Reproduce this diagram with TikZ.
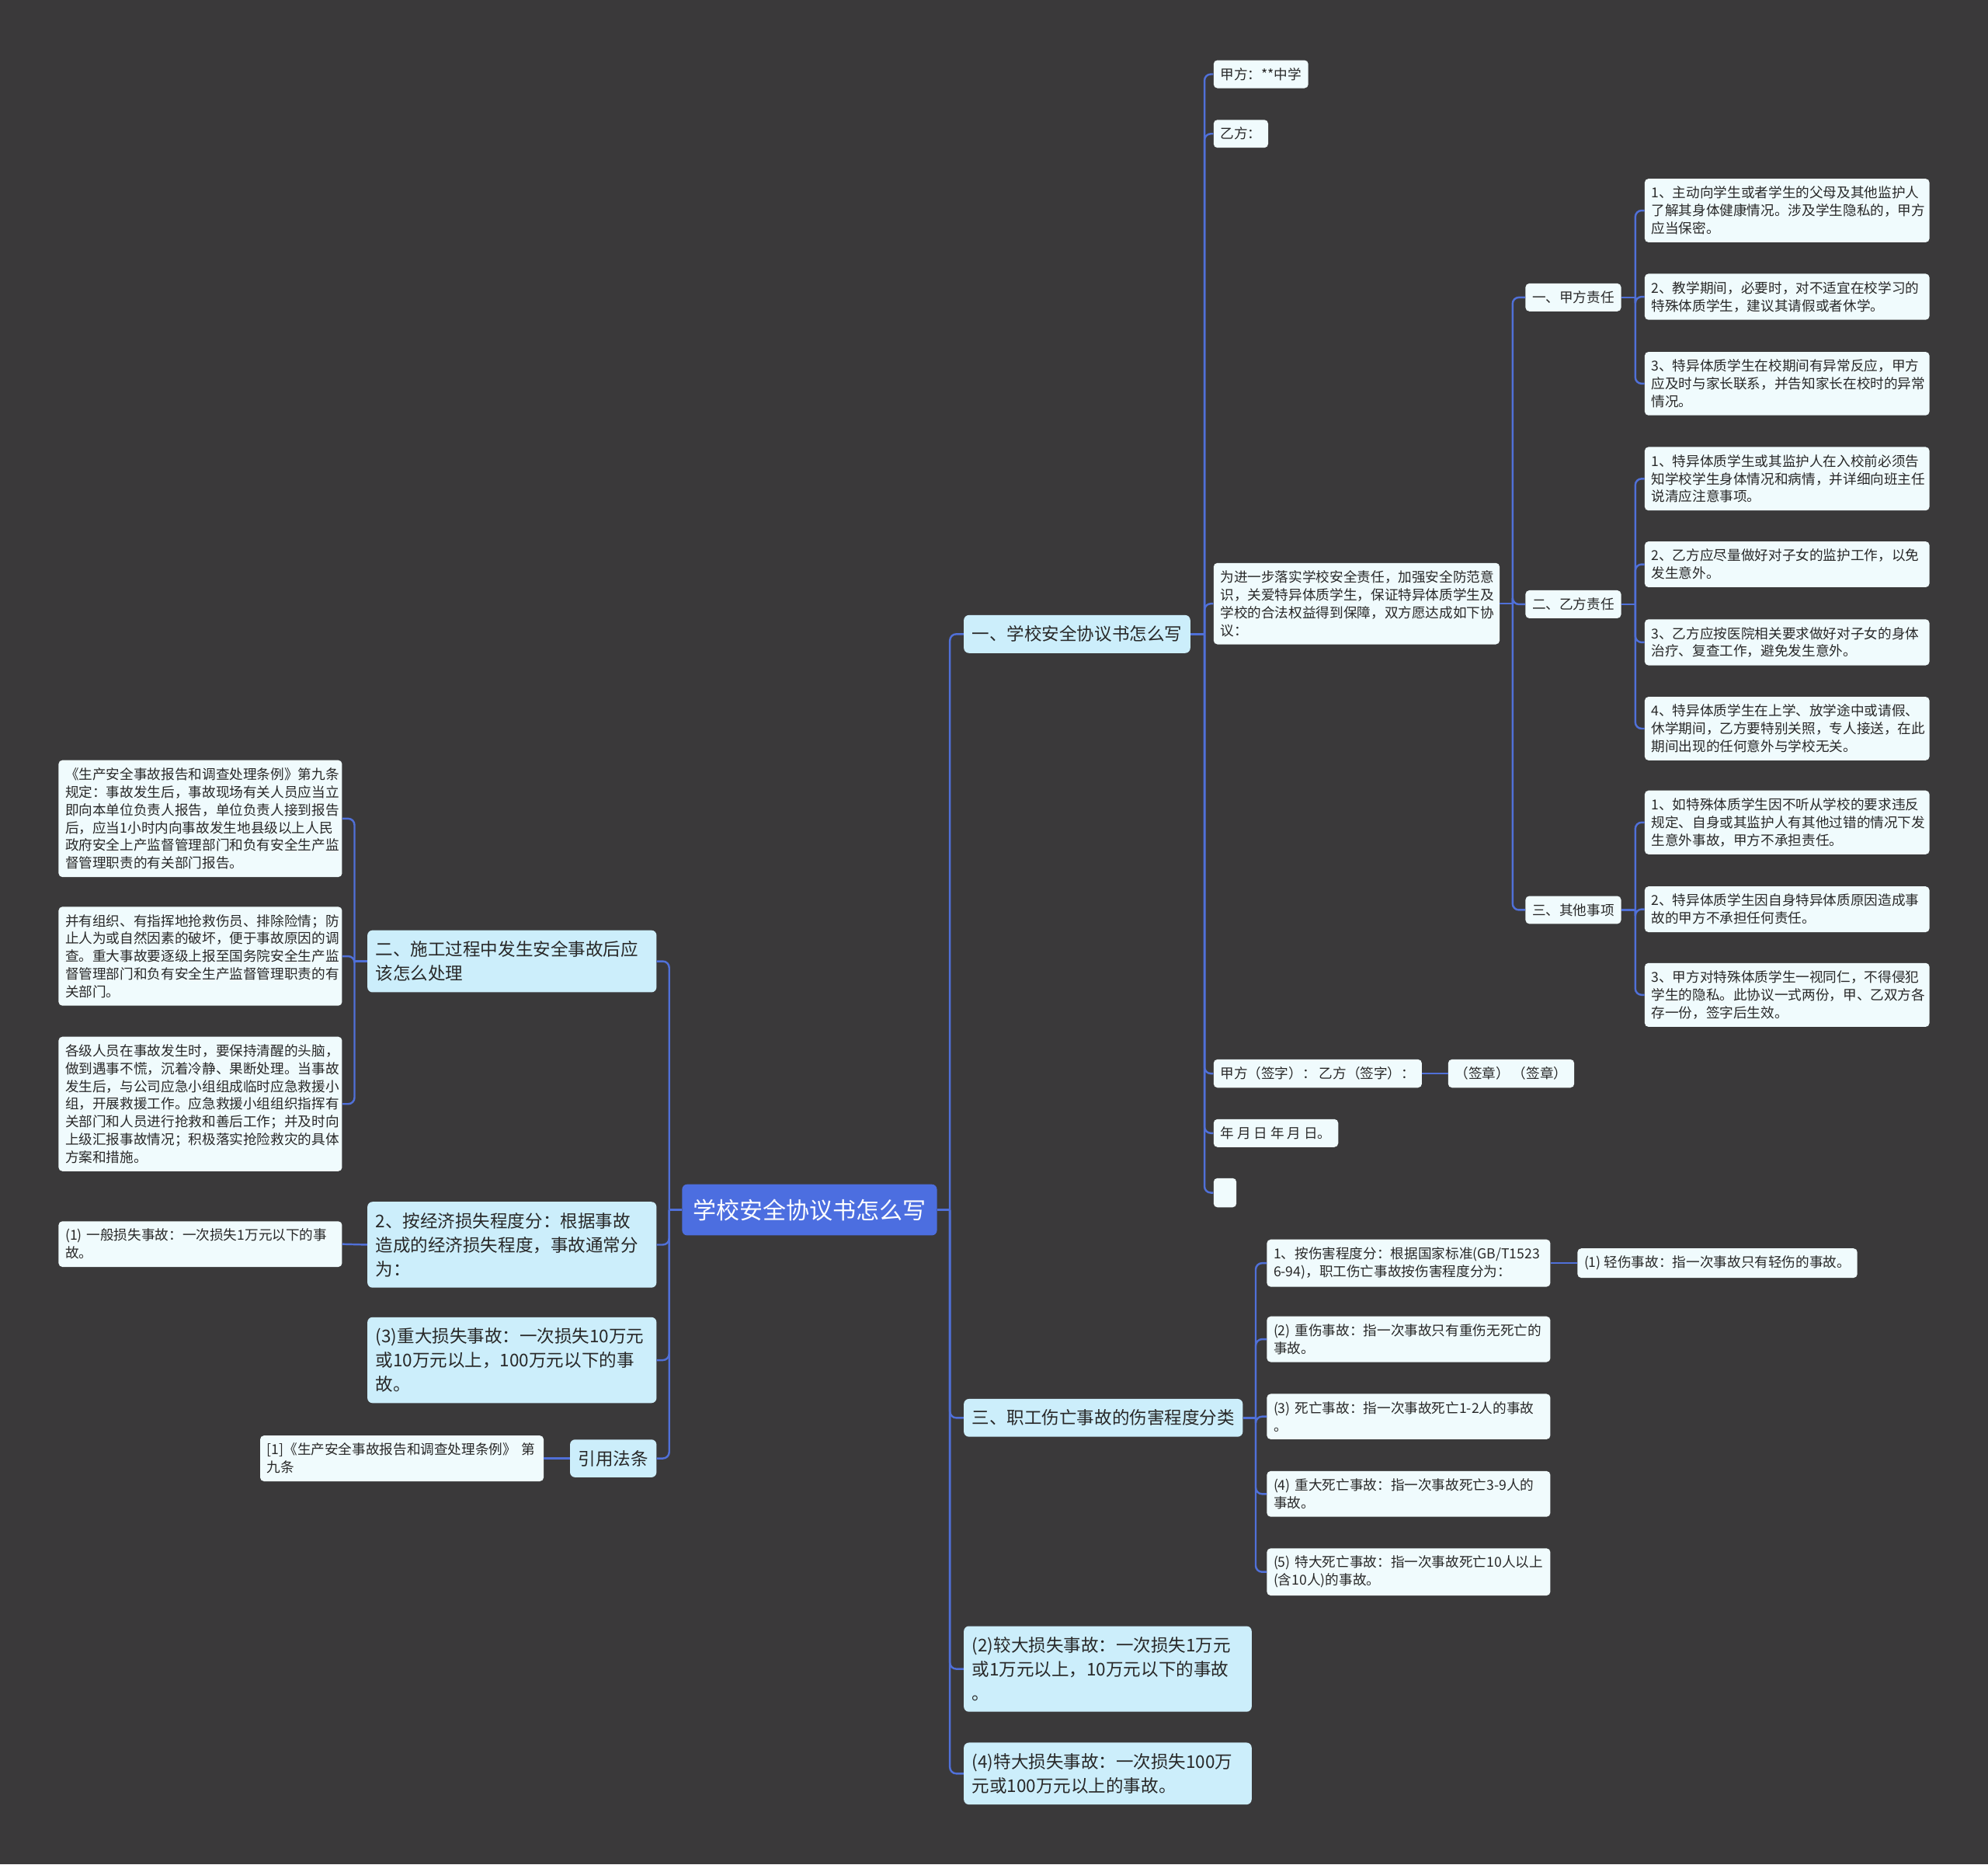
\documentclass[tikz,border=0pt]{standalone}
\usepackage{fontspec}
\setmainfont{Noto Sans CJK SC}
\usepackage{xcolor}
\usepackage{tikz}

\definecolor{bgdark}{RGB}{58,57,58}
\definecolor{rootblue}{RGB}{76,110,224}
\definecolor{topicblue}{RGB}{204,238,251}
\definecolor{leafwhite}{RGB}{240,251,253}
\definecolor{linkblue}{RGB}{80,112,216}
\definecolor{inkgray}{RGB}{40,40,40}

\begin{document}
\begin{tikzpicture}[x=1pt, y=-1pt,
    rootbox/.style={fill=rootblue, text=white, rounded corners=4pt,
        inner xsep=8.5pt, inner ysep=11.5pt, font=\fontsize{18.4pt}{22pt}\selectfont},
    topic/.style={fill=topicblue, text=inkgray, rounded corners=4pt, align=left,
        inner xsep=6.5pt, inner ysep=8.5pt, font=\fontsize{13.8pt}{19pt}\selectfont},
    leaf/.style={fill=leafwhite, text=inkgray, rounded corners=3pt, align=left,
        inner xsep=5.3pt, inner ysep=6pt, font=\fontsize{10.8pt}{14pt}\selectfont},
    link/.style={draw=linkblue, line width=1.5pt, rounded corners=5pt}]

    % Background
    \fill[bgdark] (0,0) rectangle (1568,1470);
    \useasboundingbox (0,0) rectangle (1568,1470);

    % Root
    \node[rootbox] (root) at (638.5,954) {学校安全协议书怎么写};

    % Right-hand topics
    \node[topic, anchor=west] (sec1) at (760,500) {一、学校安全协议书怎么写};
    \node[topic, anchor=west] (sec3) at (760,1118) {三、职工伤亡事故的伤害程度分类};
    \node[topic, anchor=west, text width=214pt] (loss2) at (760,1316)
        {(2)较大损失事故：一次损失1万元\\或1万元以上，10万元以下的事故\\。};
    \node[topic, anchor=west, text width=214pt] (loss4) at (760,1398.5)
        {(4)特大损失事故：一次损失100万\\元或100万元以上的事故。};

    % Left-hand topics
    \node[topic, anchor=east, text width=215pt] (sec2) at (518,758)
        {二、施工过程中发生安全事故后应\\该怎么处理};
    \node[topic, anchor=east, text width=215pt] (econ) at (518,981.5)
        {2、按经济损失程度分：根据事故\\造成的经济损失程度，事故通常分\\为：};
    \node[topic, anchor=east, text width=215pt] (loss3) at (518,1072.5)
        {(3)重大损失事故：一次损失10万元\\或10万元以上，100万元以下的事\\故。};
    \node[topic, anchor=east] (law) at (518,1150) {引用法条};

    % Agreement items
    \node[leaf, anchor=west] (partya) at (957,58.5) {甲方：**中学};
    \node[leaf, anchor=west] (partyb) at (957,105.5) {乙方：};
    \node[leaf, anchor=west, text width=215pt] (intro) at (957,476)
        {为进一步落实学校安全责任，加强安全防范意\\识，关爱特异体质学生，保证特异体质学生及\\学校的合法权益得到保障，双方愿达成如下协\\议：};
    \node[leaf, anchor=west] (sign) at (957,846.5) {甲方（签字）： 乙方（签字）：};
    \node[leaf, anchor=west] (seal) at (1142,846.5) {（签章） （签章）};
    \node[leaf, anchor=west] (date) at (957,893.5) {年 月 日 年 月 日。};
    \node[leaf, anchor=west, minimum width=18pt, minimum height=23pt] (blank) at (957,940.5) {};

    \node[leaf, anchor=west] (dutya) at (1203,234.5) {一、甲方责任};
    \node[leaf, anchor=west] (dutyb) at (1203,476.5) {二、乙方责任};
    \node[leaf, anchor=west] (other) at (1203,717.5) {三、其他事项};

    \node[leaf, anchor=west, text width=214pt] (da1) at (1297,166)
        {1、主动向学生或者学生的父母及其他监护人\\了解其身体健康情况。涉及学生隐私的，甲方\\应当保密。};
    \node[leaf, anchor=west, text width=214pt] (da2) at (1297,234)
        {2、教学期间，必要时，对不适宜在校学习的\\特殊体质学生，建议其请假或者休学。};
    \node[leaf, anchor=west, text width=214pt] (da3) at (1297,302.5)
        {3、特异体质学生在校期间有异常反应，甲方\\应及时与家长联系，并告知家长在校时的异常\\情况。};

    \node[leaf, anchor=west, text width=214pt] (db1) at (1297,377.5)
        {1、特异体质学生或其监护人在入校前必须告\\知学校学生身体情况和病情，并详细向班主任\\说清应注意事项。};
    \node[leaf, anchor=west, text width=214pt] (db2) at (1297,445)
        {2、乙方应尽量做好对子女的监护工作，以免\\发生意外。};
    \node[leaf, anchor=west, text width=214pt] (db3) at (1297,506.5)
        {3、乙方应按医院相关要求做好对子女的身体\\治疗、复查工作，避免发生意外。};
    \node[leaf, anchor=west, text width=214pt] (db4) at (1297,574.5)
        {4、特异体质学生在上学、放学途中或请假、\\休学期间，乙方要特别关照，专人接送，在此\\期间出现的任何意外与学校无关。};

    \node[leaf, anchor=west, text width=214pt] (ot1) at (1297,648.5)
        {1、如特殊体质学生因不听从学校的要求违反\\规定、自身或其监护人有其他过错的情况下发\\生意外事故，甲方不承担责任。};
    \node[leaf, anchor=west, text width=214pt] (ot2) at (1297,717)
        {2、特异体质学生因自身特异体质原因造成事\\故的甲方不承担任何责任。};
    \node[leaf, anchor=west, text width=214pt] (ot3) at (1297,784.5)
        {3、甲方对特殊体质学生一视同仁，不得侵犯\\学生的隐私。此协议一式两份，甲、乙双方各\\存一份，签字后生效。};

    % Injury grades
    \node[leaf, anchor=west, text width=213pt] (inj1) at (999,996)
        {1、按伤害程度分：根据国家标准(GB/T1523\\6-94)，职工伤亡事故按伤害程度分为：};
    \node[leaf, anchor=west] (minor) at (1244,996) {(1)~轻伤事故：指一次事故只有轻伤的事故。};
    \node[leaf, anchor=west, text width=213pt] (inj2) at (999,1056)
        {(2)~重伤事故：指一次事故只有重伤无死亡的\\事故。};
    \node[leaf, anchor=west, text width=213pt] (inj3) at (999,1117)
        {(3)~死亡事故：指一次事故死亡1-2人的事故\\。};
    \node[leaf, anchor=west, text width=213pt] (inj4) at (999,1178)
        {(4)~重大死亡事故：指一次事故死亡3-9人的\\事故。};
    \node[leaf, anchor=west, text width=213pt] (inj5) at (999,1239.5)
        {(5)~特大死亡事故：指一次事故死亡10人以上\\(含10人)的事故。};

    % Accident handling
    \node[leaf, anchor=east, text width=213pt] (rep1) at (270,645.5)
        {《生产安全事故报告和调查处理条例》第九条\\规定：事故发生后，事故现场有关人员应当立\\即向本单位负责人报告，单位负责人接到报告\\后，应当1小时内向事故发生地县级以上人民\\政府安全上产监督管理部门和负有安全生产监\\督管理职责的有关部门报告。};
    \node[leaf, anchor=east, text width=213pt] (rep2) at (270,754)
        {并有组织、有指挥地抢救伤员、排除险情；防\\止人为或自然因素的破坏，便于事故原因的调\\查。重大事故要逐级上报至国务院安全生产监\\督管理部门和负有安全生产监督管理职责的有\\关部门。};
    \node[leaf, anchor=east, text width=213pt] (rep3) at (270,870.5)
        {各级人员在事故发生时，要保持清醒的头脑，\\做到遇事不慌，沉着冷静、果断处理。当事故\\发生后，与公司应急小组组成临时应急救援小\\组，开展救援工作。应急救援小组组织指挥有\\关部门和人员进行抢救和善后工作；并及时向\\上级汇报事故情况；积极落实抢险救灾的具体\\方案和措施。};
    \node[leaf, anchor=east, text width=213pt] (loss1) at (270,981)
        {(1)~一般损失事故：一次损失1万元以下的事\\故。};
    \node[leaf, anchor=east, text width=213pt] (ref) at (429,1150)
        {[1]《生产安全事故报告和调查处理条例》~第\\九条};

    % Connectors from the root
    \draw[link] (root.east) -- ++(10,0) coordinate (rootR);
    \foreach \c in {sec1,sec3,loss2,loss4}
        \draw[link] (rootR) |- (\c.west);
    \draw[link] (root.west) -- ++(-10,0) coordinate (rootL);
    \foreach \c in {sec2,econ,loss3,law}
        \draw[link] (rootL) |- (\c.east);

    % Agreement branch
    \draw[link] (sec1.east) -- ++(11,0) coordinate (s1R);
    \foreach \c in {partya,partyb,intro,sign,date,blank}
        \draw[link] (s1R) |- (\c.west);
    \draw[link] (intro.east) -- ++(10,0) coordinate (inR);
    \foreach \c in {dutya,dutyb,other}
        \draw[link] (inR) |- (\c.west);
    \draw[link] (dutya.east) -- ++(11,0) coordinate (daR);
    \foreach \c in {da1,da2,da3}
        \draw[link] (daR) |- (\c.west);
    \draw[link] (dutyb.east) -- ++(11,0) coordinate (dbR);
    \foreach \c in {db1,db2,db3,db4}
        \draw[link] (dbR) |- (\c.west);
    \draw[link] (other.east) -- ++(11,0) coordinate (otR);
    \foreach \c in {ot1,ot2,ot3}
        \draw[link] (otR) |- (\c.west);
    \draw[link] (sign.east) -- (seal.west);

    % Injury branch
    \draw[link] (sec3.east) -- ++(10,0) coordinate (s3R);
    \foreach \c in {inj1,inj2,inj3,inj4,inj5}
        \draw[link] (s3R) |- (\c.west);
    \draw[link] (inj1.east) -- (minor.west);

    % Left branches
    \draw[link] (sec2.west) -- ++(-10,0) coordinate (s2L);
    \foreach \c in {rep1,rep2,rep3}
        \draw[link] (s2L) |- (\c.east);
    \draw[link] (econ.west) -- (loss1.east);
    \draw[link] (law.west) -- (ref.east);
\end{tikzpicture}
\end{document}
